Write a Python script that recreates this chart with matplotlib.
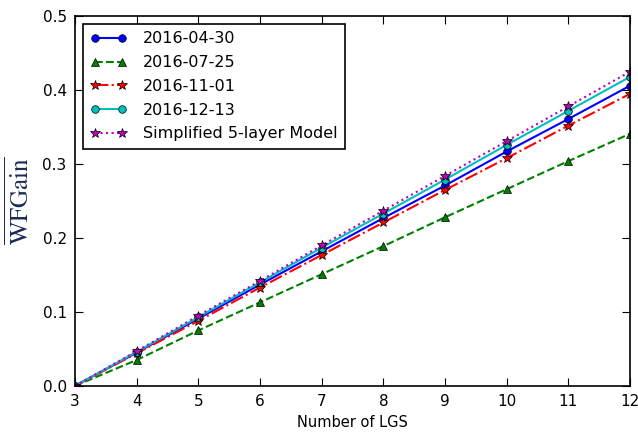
import numpy as np
import matplotlib
matplotlib.use("Agg")
import matplotlib.pyplot as plt

plt.rcParams["mathtext.fontset"] = "stix"
plt.rcParams["font.family"] = "DejaVu Sans"

# number of laser guide stars
n_lgs = [3, 4, 5, 6, 7, 8, 9, 10, 11, 12]

# mean WF gain per profile date
gain_0430 = [0.0, 0.045, 0.091, 0.137, 0.182, 0.227, 0.271, 0.317, 0.361, 0.406]
gain_0725 = [0.0, 0.035, 0.075, 0.113, 0.151, 0.189, 0.228, 0.266, 0.304, 0.341]
gain_1101 = [0.0, 0.044, 0.088, 0.133, 0.177, 0.221, 0.265, 0.308, 0.352, 0.395]
gain_1213 = [0.0, 0.046, 0.093, 0.140, 0.187, 0.233, 0.279, 0.326, 0.372, 0.418]
gain_model = [0.0, 0.047, 0.095, 0.142, 0.190, 0.237, 0.284, 0.331, 0.378, 0.425]

series = [
    (gain_0430, "2016-04-30", "b", "-", "o", 5.5),
    (gain_0725, "2016-07-25", "g", "--", "^", 6),
    (gain_1101, "2016-11-01", "r", "-.", "*", 7),
    (gain_1213, "2016-12-13", "c", "-", "o", 5.5),
    (gain_model, "Simplified 5-layer Model", "m", ":", "*", 7),
]

fig = plt.figure(figsize=(6.38, 4.37), dpi=100)
ax = fig.add_axes([0.1176, 0.117, 0.870, 0.846])

for vals, lab, col, ls, mk, ms in series:
    ax.plot(n_lgs, vals, color=col, ls=ls, lw=1.5, marker=mk, ms=ms,
            markerfacecolor=col, markeredgecolor="k", markeredgewidth=0.5,
            label=lab)

ax.set_xlim(3, 12)
ax.set_ylim(0, 0.5)
ax.set_xticks(range(3, 13))
ax.set_yticks(np.arange(0, 0.51, 0.1))
ax.set_yticklabels([f"{v:.1f}" for v in np.arange(0, 0.51, 0.1)])
ax.tick_params(direction="in", top=True, right=True, length=6, labelsize=11,
               pad=6)
for sp in ax.spines.values():
    sp.set_linewidth(1.2)

ax.set_xlabel("Number of LGS", fontsize=10.5)
ax.set_ylabel(r"$\overline{\mathrm{WFGain}}$", fontsize=18, labelpad=6,
              color="#1c2a55")

leg = ax.legend(loc="upper left", numpoints=2, fontsize=11.5, fancybox=False,
                framealpha=1, edgecolor="k", borderpad=0.45,
                handlelength=2.3, labelspacing=0.55, handletextpad=1.0)
leg.get_frame().set_linewidth(1.2)

fig.savefig("out.png", dpi=100, facecolor="white")
